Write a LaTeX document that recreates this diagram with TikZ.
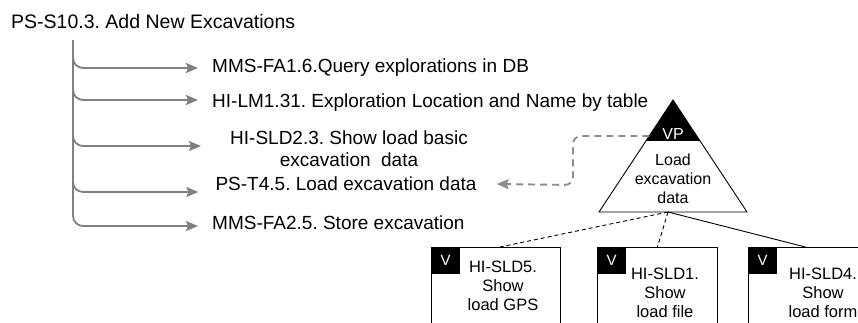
\documentclass[tikz,border=0pt]{standalone}
\usepackage{fontspec}
\setmainfont{Liberation Sans}
\usepackage{tikz}
\usetikzlibrary{arrows.meta, positioning, calc}
\frenchspacing

\tikzset{
    lbl/.style={font=\fontsize{19}{22}\selectfont, inner sep=0pt},
    small/.style={font=\fontsize{16.5}{19}\selectfont, inner sep=0pt, align=center},
    branch/.style={draw=gray, line width=1.8pt, rounded corners=10pt, -{Stealth[length=12pt,width=10pt,inset=2pt]}},
    backlink/.style={draw=gray!90, line width=1.9pt, dash pattern=on 7pt off 5pt, rounded corners=8pt, -{Stealth[length=12pt,width=10pt,inset=2pt]}},
    vbox/.style={draw, line width=0.9pt, anchor=north west, minimum height=95pt},
    tag/.style={fill=black, text=white, inner sep=0pt, minimum width=29pt, minimum height=27pt, anchor=north west, font=\fontsize{15}{17}\selectfont}
}

\begin{document}
\begin{tikzpicture}[x=1pt,y=-1pt]
                    \useasboundingbox (0,0) rectangle (858,322);
                    \clip (0,0) rectangle (858,322);

                    \node[lbl, anchor=base west, font=\fontsize{19.5}{22}\selectfont] (title) at (11,28) {PS-S10.3. Add New Excavations};
                    \coordinate (trunk) at (73,40);

                    \node[lbl, anchor=base west] (q1) at (212,72) {MMS-FA1.6.Query explorations in DB};
                    \node[lbl, anchor=base west] (q2) at (212,107) {HI-LM1.31. Exploration Location and Name by table};
                    \node[lbl, align=center] (q3) at (349,149) {HI-SLD2.3. Show load basic\\excavation\ \ data};
                    \node[lbl] (q4) at (346,184) {PS-T4.5. Load excavation data};
                    \node[lbl, anchor=base west] (q5) at (212,229) {MMS-FA2.5. Store excavation};

                    \draw[branch] (trunk) |- ([shift={(-14pt,4pt)}]q1.base west);
                    \draw[branch] (trunk) |- ([shift={(-14pt,7pt)}]q2.base west);
                    \draw[branch] (trunk) |- ([shift={(-29pt,3pt)}]q3.west);
                    \draw[branch] (trunk) |- ([shift={(-17pt,-8pt)}]q4.west);
                    \draw[branch] (trunk) |- ([shift={(-14pt,3pt)}]q5.base west);

                    \coordinate (apex) at (673,100);
                    \coordinate (bl) at (599,212);
                    \coordinate (br) at (747,212);
                    \coordinate (tb) at (668,212);
                    \fill (apex) -- ($(apex)!0.366!(br)$) -- ($(apex)!0.366!(bl)$) -- cycle;
                    \draw[line width=0.9pt] (apex) -- (br) -- (bl) -- cycle;
                    \node[text=white, inner sep=0pt, font=\fontsize{16}{18}\selectfont] (vp) at (673,134) {VP};
                    \node[small, font=\fontsize{16}{19}\selectfont] (load) at (673,179) {Load\\excavation\\data};

                    \coordinate (vpl) at ($(apex)!0.321!(bl)$);
                    \draw[backlink] (vpl) -- (573,136) -- (573,185) -- ([xshift=20pt]q4.east);

                    \node[vbox, minimum width=129pt] (b1) at (431,247) {};
                    \node[vbox, minimum width=120pt] (b2) at (597,247) {};
                    \node[vbox, minimum width=114pt] (b3) at (748,247) {};
                    \node[tag] (t1) at (b1.north west) {V};
                    \node[tag] (t2) at (b2.north west) {V};
                    \node[tag] (t3) at (b3.north west) {V};

                    \node[small] (s1) at (503,286) {HI-SLD5.\\Show\\load GPS};
                    \node[small] (s2) at (665,293) {HI-SLD1.\\Show\\load file};
                    \node[small] (s3) at (823,293) {HI-SLD4.\\Show\\load form};

                    \draw[line width=0.9pt, dash pattern=on 4pt off 3pt] (tb) -- ([xshift=4pt]b1.north);
                    \draw[line width=0.9pt, dash pattern=on 4pt off 3pt] (tb) -- (b2.north);
                    \draw[line width=0.9pt] (tb) -- (b3.north);
                \end{tikzpicture}
\end{document}
